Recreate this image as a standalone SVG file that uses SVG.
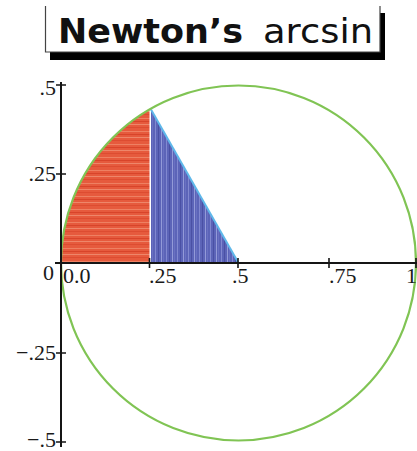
<svg xmlns="http://www.w3.org/2000/svg" width="417" height="451" viewBox="0 0 417 451">
<style>
.ax{stroke:#151515;stroke-width:2;fill:none}
.tk{stroke:#151515;stroke-width:1.6;fill:none}
.lb{font-family:"Liberation Serif","Times New Roman",serif;font-size:22px;fill:#1a1a1a}
.ttl{font-family:"DejaVu Sans",Verdana,sans-serif;font-size:34px;fill:#111}
</style>
<defs>
<pattern id="redH" patternUnits="userSpaceOnUse" width="20" height="13">
<rect width="20" height="13" fill="#e65a3d"/>
<line x1="0" y1="1.5" x2="20" y2="1.5" stroke="#f08a6c" stroke-width="0.8"/>
<line x1="0" y1="4.5" x2="20" y2="4.5" stroke="#d8442a" stroke-width="1"/>
<line x1="0" y1="7.5" x2="20" y2="7.5" stroke="#f29a7e" stroke-width="0.7"/>
<line x1="0" y1="10.5" x2="20" y2="10.5" stroke="#dc4b30" stroke-width="0.9"/>
</pattern>
<pattern id="blueV" patternUnits="userSpaceOnUse" width="11" height="20">
<rect width="11" height="20" fill="#5c64b8"/>
<line x1="1.5" y1="0" x2="1.5" y2="20" stroke="#8a92d6" stroke-width="0.8"/>
<line x1="4.5" y1="0" x2="4.5" y2="20" stroke="#4a50a4" stroke-width="1"/>
<line x1="7.5" y1="0" x2="7.5" y2="20" stroke="#b9bfee" stroke-width="0.6"/>
<line x1="9.5" y1="0" x2="9.5" y2="20" stroke="#6d75c4" stroke-width="0.8"/>
</pattern>
</defs>

<g id="title">
<rect x="50" y="13" width="335" height="47" fill="#000"/>
<rect x="45.5" y="6" width="334.5" height="46" fill="#fff"/>
<path d="M45.5,6 V52 H380 V6" fill="none" stroke="#444" stroke-width="1.2"/>
<text class="ttl" x="58" y="43"><tspan font-weight="bold" textLength="185" lengthAdjust="spacingAndGlyphs">Newton’s</tspan></text>
<text class="ttl" x="263" y="43" textLength="110" lengthAdjust="spacingAndGlyphs">arcsin</text>
</g>

<g id="red-region">
<path d="M61,263 A177.5,177.5 0 0,1 149.5,109.4 L149.5,263 Z" fill="url(#redH)"/>
</g>
<g id="blue-region">
<path d="M151,109.4 L151,263 L238.5,263 Z" fill="url(#blueV)"/>
<line x1="151" y1="109.4" x2="238.5" y2="263" stroke="#5fb8ea" stroke-width="2"/>
</g>

<g id="circle">
<circle cx="238.5" cy="263" r="177.5" fill="none" stroke="#80c454" stroke-width="2.2"/>
</g>

<g id="connectors">
<line class="ax" x1="61" y1="82" x2="61" y2="447"/>
<line class="ax" x1="55" y1="263" x2="417" y2="263"/>
<path class="tk" d="M56,85H66 M56,174H66 M56,353H66 M56,442H66"/>
<path class="tk" d="M149.5,258V268 M238,258V268 M329,258V268 M416,258V268"/>
</g>

<g id="labels">
<text class="lb" x="56" y="95" text-anchor="end">.5</text>
<text class="lb" x="56" y="181" text-anchor="end">.25</text>
<text class="lb" x="54" y="280" text-anchor="end">0</text>
<text class="lb" x="56" y="360" text-anchor="end">−.25</text>
<text class="lb" x="56" y="447" text-anchor="end">−.5</text>
<text class="lb" x="63" y="283">0.0</text>
<text class="lb" x="149" y="283">.25</text>
<text class="lb" x="232" y="283">.5</text>
<text class="lb" x="329" y="283">.75</text>
<text class="lb" x="406" y="283">1</text>
</g>
</svg>
